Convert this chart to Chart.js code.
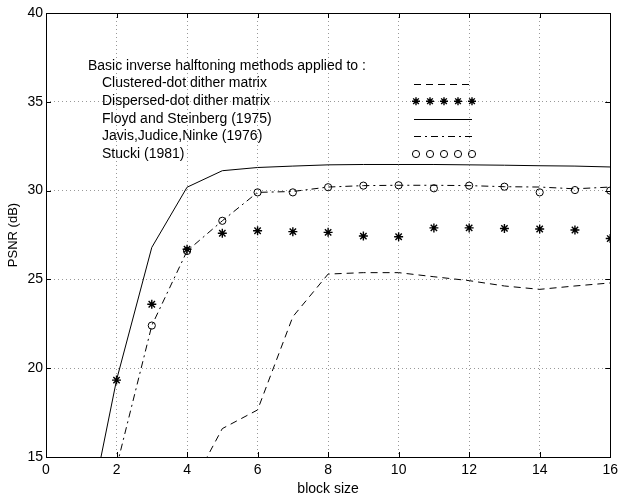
<!DOCTYPE html>
<html lang="en">
<head>
    <meta charset="UTF-8">
    <title>PSNR vs block size</title>
    <script src="https://cdn.jsdelivr.net/npm/chart.js@4.4.1/dist/chart.umd.min.js"></script>
    <style>
        body { margin: 0; background: #fff; }
        canvas { display: block; }
    </style>
</head>
<body>
<canvas id="psnr" width="623" height="496"></canvas>
<script>
    // values
    blockSize = [1, 2, 3, 4, 5, 6, 7, 8, 9, 10, 11, 12, 13, 14, 15, 16];
    clustered = [null, null, null, 12.9, 16.6, 17.65, 22.9, 25.3, 25.38, 25.38, 25.15, 24.93, 24.63, 24.44, 24.63, 24.8];
    dispersed = [null, 19.33, 23.6, 26.7, 27.6, 27.74, 27.69, 27.65, 27.44, 27.4, 27.9, 27.9, 27.87, 27.84, 27.78, 27.3];
    floyd = [9.5, 19.33, 26.8, 30.19, 31.12, 31.3, 31.38, 31.45, 31.47, 31.47, 31.47, 31.45, 31.43, 31.4, 31.38, 31.33];
    jarvis = [null, 14.44, 22.4, 26.6, 28.3, 29.9, 29.95, 30.2, 30.28, 30.3, 30.3, 30.28, 30.22, 30.2, 30.1, 30.2];
    stucki = [null, null, 22.4, 26.6, 28.3, 29.9, 29.9, 30.19, 30.28, 30.3, 30.13, 30.28, 30.22, 29.9, 30.03, 30.0];
    legendTitle = "Basic inverse halftoning methods applied to :";
    legendNames = ["Clustered-dot dither matrix", "Dispersed-dot dither matrix",
        "Floyd and Steinberg (1975)", "Javis,Judice,Ninke (1976)", "Stucki (1981)"];
    xTicks = [0, 2, 4, 6, 8, 10, 12, 14, 16];
    yTicks = [15, 20, 25, 30, 35, 40];

    var FONT = "'Liberation Sans', Arial, sans-serif";

    function pts(ys) {
        var out = [];
        for (var i = 0; i < blockSize.length; i++) out.push({x: blockSize[i], y: ys[i]});
        return out;
    }

    // styles of each series, in legend order
    var styles = [
        {data: clustered, dash: [7, 5], line: true, marker: false},
        {data: dispersed, dash: [], line: false, marker: 'star'},
        {data: floyd, dash: [], line: true, marker: false},
        {data: jarvis, dash: [7, 4, 2, 4], line: true, marker: false},
        {data: stucki, dash: [], line: false, marker: 'circle'}
    ];

    var datasets = styles.map(function (s, i) {
        return {
            label: legendNames[i],
            data: pts(s.data),
            showLine: s.line,
            borderColor: '#000',
            backgroundColor: 'rgba(0,0,0,0)',
            borderWidth: 1,
            borderDash: s.dash,
            pointStyle: s.marker || 'circle',
            pointRadius: s.marker ? (s.marker === 'star' ? 4.5 : 3.6) : 0,
            pointBorderColor: '#000',
            pointBackgroundColor: 'rgba(0,0,0,0)',
            pointBorderWidth: s.marker === 'star' ? 1.4 : 1,
            spanGaps: false,
            tension: 0
        };
    });

    // matlab-like box with inward ticks
    var boxPlugin = {
        id: 'box',
        afterDraw: function (chart) {
            var ctx = chart.ctx, a = chart.chartArea;
            var sx = chart.scales.x, sy = chart.scales.y;
            ctx.save();
            ctx.strokeStyle = '#000';
            ctx.lineWidth = 1;
            ctx.setLineDash([]);
            ctx.strokeRect(Math.round(a.left) + 0.5, Math.round(a.top) + 0.5,
                Math.round(a.right - a.left), Math.round(a.bottom - a.top));
            ctx.beginPath();
            xTicks.forEach(function (v) {
                var px = Math.round(sx.getPixelForValue(v)) + 0.5;
                ctx.moveTo(px, a.bottom); ctx.lineTo(px, a.bottom - 5);
                ctx.moveTo(px, a.top); ctx.lineTo(px, a.top + 5);
            });
            yTicks.forEach(function (v) {
                var py = Math.round(sy.getPixelForValue(v)) + 0.5;
                ctx.moveTo(a.left, py); ctx.lineTo(a.left + 5, py);
                ctx.moveTo(a.right, py); ctx.lineTo(a.right - 5, py);
            });
            ctx.stroke();
            ctx.restore();
        }
    };

    // legend: text on the left, sample on the right
    var legendPlugin = {
        id: 'textLegend',
        afterDatasetsDraw: function (chart) {
            var ctx = chart.ctx, a = chart.chartArea;
            var tx = a.left + 42, ty = a.top + 53;
            var sx0 = a.left + 368, sx1 = a.left + 426;
            ctx.save();
            ctx.fillStyle = '#000';
            ctx.strokeStyle = '#000';
            ctx.font = '14px ' + FONT;
            ctx.textBaseline = 'middle';
            ctx.fillText(legendTitle, tx, ty);
            styles.forEach(function (s, i) {
                var y = ty + 17.6 * (i + 1);
                ctx.fillStyle = '#000';
                ctx.fillText(legendNames[i], tx + 14, y);
                if (s.line) {
                    ctx.lineWidth = 1;
                    ctx.setLineDash(s.dash);
                    ctx.beginPath();
                    ctx.moveTo(sx0, Math.round(y) + 0.5);
                    ctx.lineTo(sx1, Math.round(y) + 0.5);
                    ctx.stroke();
                    ctx.setLineDash([]);
                } else {
                    ctx.fillStyle = 'rgba(0,0,0,0)';
                    ctx.lineWidth = s.marker === 'star' ? 1.4 : 1;
                    for (var k = 0; k < 5; k++) {
                        var px = sx0 + 2 + k * 14;
                        Chart.helpers.drawPoint(ctx, {
                            pointStyle: s.marker,
                            radius: s.marker === 'star' ? 4 : 3.6,
                            borderWidth: ctx.lineWidth
                        }, px, y);
                    }
                }
            });
            ctx.restore();
        }
    };

    var ctx = document.getElementById('psnr').getContext('2d');
    var chart = new Chart(ctx, {
        type: 'scatter',
        data: {datasets: datasets},
        plugins: [legendPlugin, boxPlugin],
        options: {
            responsive: false,
            animation: false,
            devicePixelRatio: 1,
            layout: {padding: {top: 13, right: 8, left: 0, bottom: 0}},
            plugins: {legend: {display: false}, tooltip: {enabled: false}},
            scales: {
                x: {
                    type: 'linear', min: 0, max: 16,
                    afterBuildTicks: function (s) { s.ticks = xTicks.map(function (v) { return {value: v}; }); },
                    afterFit: function (s) { s.height = 39; },
                    ticks: {color: '#000', font: {family: FONT, size: 14}, padding: 5, maxRotation: 0},
                    grid: {color: '#999', drawTicks: false, lineWidth: 1},
                    border: {display: false, dash: [1, 3]},
                    title: {display: true, text: 'block size', color: '#000',
                        font: {family: FONT, size: 14, lineHeight: 1.05}, padding: {top: 0, bottom: 0}}
                },
                y: {
                    min: 15, max: 40,
                    afterBuildTicks: function (s) { s.ticks = yTicks.map(function (v) { return {value: v}; }); },
                    afterFit: function (s) { s.width = 46; },
                    ticks: {color: '#000', font: {family: FONT, size: 14}, padding: 3},
                    grid: {color: '#999', drawTicks: false, lineWidth: 1},
                    border: {display: false, dash: [1, 3]},
                    title: {display: true, text: 'PSNR (dB)', color: '#000',
                        font: {family: FONT, size: 13, lineHeight: 2}, padding: {top: 0, bottom: 0}}
                }
            }
        }
    });
</script>
</body>
</html>
